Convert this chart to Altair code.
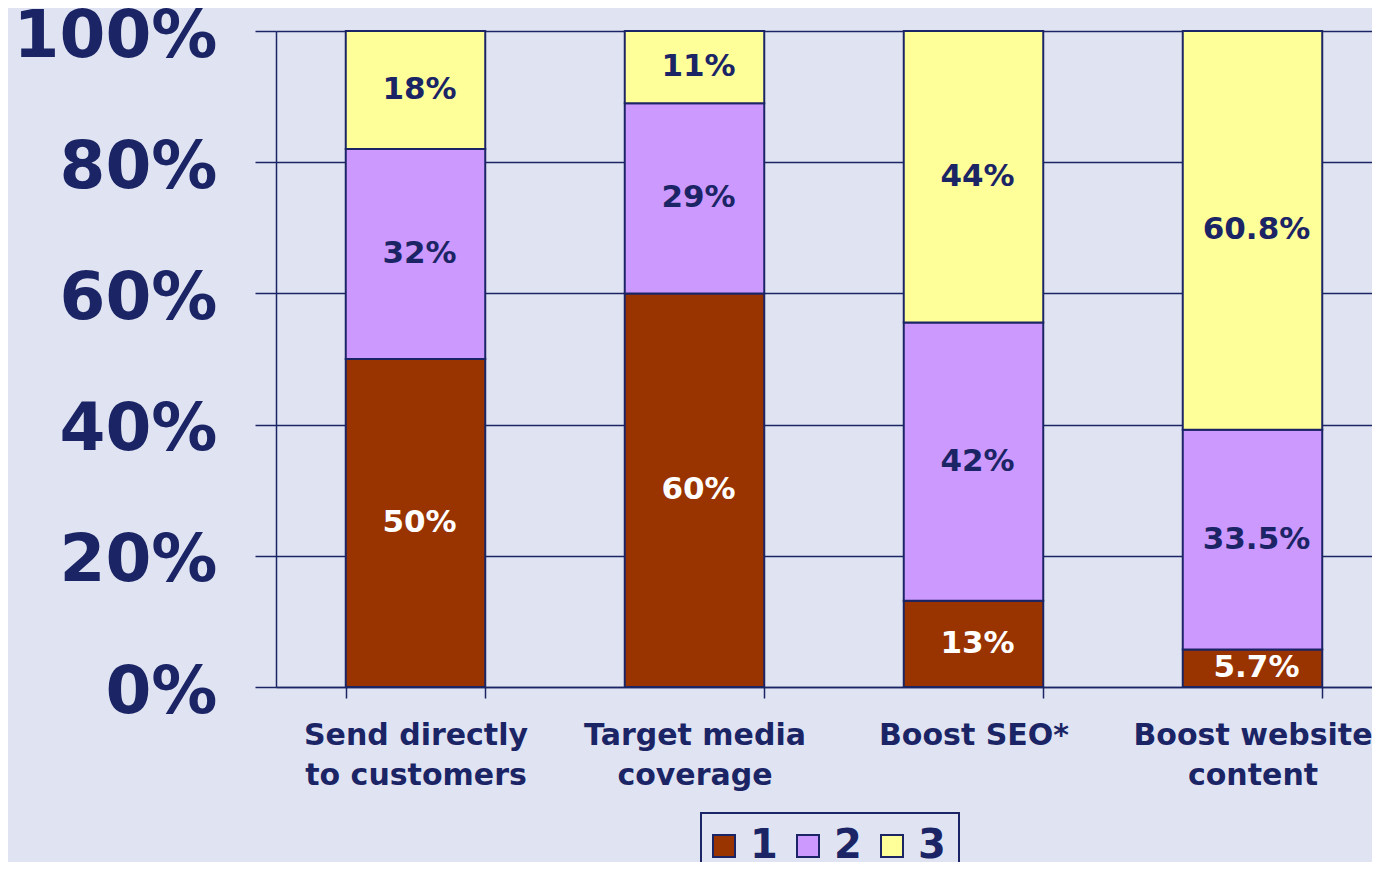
import altair as alt
import pandas as pd

# ---- data ----
categories = ["Send directly\nto customers", "Target media\ncoverage", "Boost SEO*", "Boost website\ncontent"]
series = ["1", "2", "3"]
values_1 = [50, 60, 13, 5.7]
values_2 = [32, 29, 42, 33.5]
values_3 = [18, 11, 44, 60.8]
y_ticks = [0, 0.2, 0.4, 0.6, 0.8, 1.0]
colors = ["#993300", "#CC99FF", "#FFFF99"]

rows = []
for s, vals in zip(series, [values_1, values_2, values_3]):
    for c, v in zip(categories, vals):
        rows.append({"category": c, "series": s, "value": v, "order": int(s)})
df = pd.DataFrame(rows)

NAVY = "#1B2566"
BG = "#E0E4F2"
FONT = "DejaVu Sans"

x_enc = alt.X(
    "category:N", sort=categories,
    scale=alt.Scale(range=[0, 1116], paddingInner=0.5, paddingOuter=0.25),
    axis=alt.Axis(
        title=None, labelAngle=0, labelExpr="split(datum.label, '\\n')",
        labelFont=FONT, labelFontSize=30, labelFontWeight="bold", labelColor=NAVY,
        labelLineHeight=40, labelPadding=22, labelLimit=600, labelOverlap=False,
        labelBaseline="top", tickBand="extent", tickSize=11, tickColor=NAVY,
        tickWidth=1.5, domainColor=NAVY, domainWidth=1.5, grid=False,
    ),
)

y_axis = alt.Axis(
    title=None, values=y_ticks, format=".0%", labelFont=FONT, labelFontSize=66,
    labelFontWeight="bold", labelColor=NAVY, labelPadding=38, labelLimit=600,
    labelOffset=5, tickSize=21, tickColor=NAVY, tickWidth=1.5, domainColor=NAVY,
    domainWidth=1.5, grid=True, gridColor=NAVY, gridWidth=1.5, gridOpacity=1,
)

bars = alt.Chart(df).mark_bar(stroke=NAVY, strokeWidth=2).encode(
    x=x_enc,
    y=alt.Y("value:Q", stack="normalize", scale=alt.Scale(domain=[0, 1]), axis=y_axis),
    color=alt.Color(
        "series:N", scale=alt.Scale(domain=series, range=colors),
        legend=alt.Legend(
            title=None, orient="none", legendX=425, legendY=782, direction="horizontal",
            symbolType="square", symbolSize=484, symbolStrokeColor=NAVY,
            symbolStrokeWidth=2, symbolOpacity=1, symbolOffset=-10,
            labelFont=FONT, labelFontSize=40,
            labelFontWeight="bold", labelColor=NAVY, labelOffset=6, columnPadding=15,
            padding=13, strokeColor=NAVY, fillColor=BG,
        ),
    ),
    order=alt.Order("order:Q"),
)

text = (
    alt.Chart(df)
    .transform_joinaggregate(total="sum(value)", groupby=["category"])
    .transform_window(cum="sum(value)", sort=[alt.SortField("order")],
                      groupby=["category"], frame=[None, 0])
    .transform_calculate(mid="(datum.cum - datum.value / 2) / datum.total",
                         label="datum.value + '%'")
    .mark_text(font=FONT, fontSize=31, fontWeight="bold", dx=4)
    .encode(
        x=alt.X("category:N", sort=categories),
        y=alt.Y("mid:Q", title=None),
        text="label:N",
        color=alt.condition("datum.series == '1'", alt.value("#FFFFFF"), alt.value(NAVY)),
    )
)

chart = (
    alt.layer(bars, text)
    .properties(
        width=1096, height=656,
        padding={"left": 268, "top": 23, "right": 0, "bottom": 175},
        autosize=alt.AutoSizeParams(type="none"),
        background=BG,
    )
    .configure_view(stroke="transparent")
    .configure_legend(strokeWidth=2)
)

chart.save("out.html", embed_options={"renderer": "svg", "actions": False})
